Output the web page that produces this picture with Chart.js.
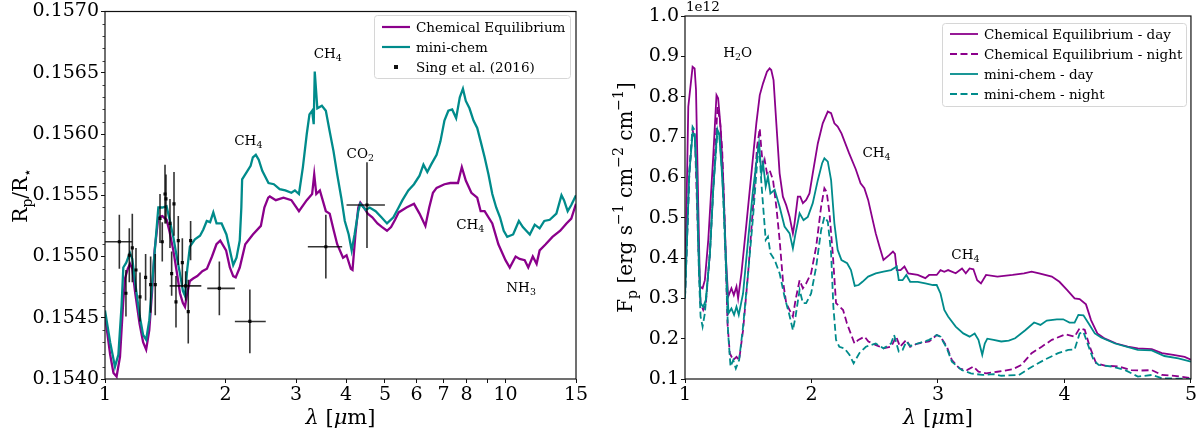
<!DOCTYPE html>
<html>
<head>
<meta charset="utf-8">
<script src="https://cdn.jsdelivr.net/npm/chart.js@4.4.1/dist/chart.umd.min.js"></script>
<style>
  body { margin: 0; background: #fff; }
  #wrap { position: relative; width: 1200px; height: 435px; }
  canvas { position: absolute; top: 0; }
</style>
</head>
<body>
<div id="wrap">
  <canvas id="transit" width="600" height="435" style="left:0"></canvas>
  <canvas id="emission" width="600" height="435" style="left:600px"></canvas>
</div>
<script>
// ---- transmission spectrum (left) ----
const ceLam = [1.00,1.03,1.05,1.069,1.09,1.11,1.122,1.14,1.155,1.17,1.19,1.22,1.245,1.267,1.29,1.31,1.33,1.359,1.39,1.425,1.45,1.481,1.51,1.539,1.565,1.584,1.60,1.629,1.66,1.70,1.75,1.797,1.85,1.898,1.94,2.006,2.05,2.09,2.12,2.17,2.24,2.34,2.45,2.50,2.556,2.58,2.67,2.79,2.92,3.05,3.19,3.29,3.33,3.37,3.44,3.56,3.64,3.72,3.80,3.93,4.01,4.11,4.15,4.22,4.29,4.34,4.43,4.53,4.65,4.79,4.92,5.06,5.18,5.30,5.41,5.66,5.91,6.10,6.31,6.45,6.59,6.73,7.04,7.28,7.61,7.78,7.96,8.22,8.50,8.67,8.87,9.27,9.60,10.0,10.25,10.6,10.85,11.17,11.4,11.7,11.96,12.17,12.6,13.1,13.7,14.2,14.6,15.0];
const ceRad = [0.15452,0.15420,0.15405,0.15402,0.15418,0.15462,0.15482,0.15490,0.15494,0.15490,0.15470,0.15445,0.15430,0.15424,0.15440,0.15470,0.15505,0.15532,0.15533,0.15530,0.15520,0.15505,0.15488,0.15470,0.15462,0.15459,0.15468,0.15480,0.15482,0.15484,0.15488,0.15490,0.15500,0.15510,0.15513,0.15505,0.15491,0.15484,0.15483,0.15491,0.15510,0.15518,0.15525,0.15540,0.15548,0.15549,0.15546,0.15548,0.15546,0.15537,0.15546,0.15551,0.15567,0.15551,0.15554,0.15537,0.15535,0.15522,0.15510,0.15499,0.15501,0.15490,0.15489,0.15518,0.15540,0.15544,0.15540,0.15535,0.15532,0.15527,0.15524,0.15521,0.15524,0.15530,0.15536,0.15540,0.15543,0.15535,0.15525,0.15540,0.15552,0.15556,0.15559,0.15560,0.15560,0.15573,0.15562,0.15552,0.15548,0.15537,0.15537,0.15527,0.15510,0.15497,0.15491,0.15500,0.15498,0.15497,0.15491,0.15500,0.15494,0.15505,0.15510,0.15516,0.15521,0.15527,0.15531,0.15543];

const mcLam = [1.00,1.03,1.059,1.08,1.10,1.111,1.13,1.154,1.17,1.19,1.22,1.245,1.267,1.29,1.32,1.359,1.39,1.425,1.45,1.481,1.51,1.539,1.565,1.584,1.605,1.629,1.677,1.727,1.76,1.795,1.83,1.864,1.899,1.955,2.01,2.07,2.09,2.13,2.17,2.19,2.20,2.24,2.31,2.34,2.38,2.42,2.47,2.56,2.64,2.73,2.82,2.92,2.98,3.05,3.12,3.19,3.24,3.29,3.32,3.34,3.39,3.48,3.56,3.64,3.72,3.80,3.89,3.97,4.06,4.13,4.20,4.29,4.34,4.48,4.58,4.74,4.90,5.06,5.25,5.41,5.53,5.72,5.91,6.10,6.24,6.38,6.52,6.73,6.88,7.04,7.20,7.36,7.53,7.69,7.83,7.96,8.13,8.32,8.50,8.67,8.87,9.07,9.27,9.48,9.69,9.90,10.1,10.45,10.8,11.05,11.5,11.83,12.17,12.5,12.9,13.4,13.8,14.0,14.3,14.6,15.0];
const mcRad = [0.15456,0.15430,0.15410,0.15420,0.15460,0.15491,0.15495,0.15503,0.15498,0.15478,0.15452,0.15436,0.15432,0.15448,0.15490,0.15540,0.15540,0.15541,0.15530,0.15516,0.15500,0.15486,0.15472,0.15468,0.15490,0.15508,0.15514,0.15517,0.15522,0.15529,0.15528,0.15536,0.15527,0.15527,0.15518,0.15499,0.15493,0.15499,0.15513,0.15540,0.15563,0.15567,0.15574,0.15581,0.15583,0.15579,0.15570,0.15560,0.15559,0.15555,0.15554,0.15552,0.15554,0.15551,0.15573,0.15600,0.15616,0.15619,0.15608,0.15651,0.15621,0.15623,0.15619,0.15602,0.15586,0.15567,0.15548,0.15529,0.15518,0.15505,0.15518,0.15537,0.15543,0.15538,0.15540,0.15537,0.15532,0.15527,0.15532,0.15540,0.15546,0.15554,0.15559,0.15566,0.15575,0.15569,0.15575,0.15583,0.15594,0.15611,0.15619,0.15620,0.15613,0.15630,0.15637,0.15627,0.15621,0.15611,0.15605,0.15594,0.15581,0.15567,0.15551,0.15540,0.15532,0.15521,0.15516,0.15518,0.15529,0.15524,0.15518,0.15526,0.15523,0.15529,0.15530,0.15535,0.15550,0.15546,0.15537,0.15542,0.15550];

// Sing et al. (2016): wavelength, Rp/R*, x-range low/high (0 = none), y error
const obsLam  = [1.086,1.128,1.15,1.17,1.195,1.223,1.263,1.30,1.335,1.372,1.39,1.412,1.42,1.453,1.467,1.487,1.504,1.524,1.56,1.614,1.636,1.59,1.93,2.30,3.56,4.51];
const obsRad  = [0.15512,0.15470,0.15501,0.15507,0.15489,0.15467,0.15483,0.15477,0.15477,0.15531,0.15512,0.15551,0.15547,0.15527,0.15486,0.15543,0.15463,0.15513,0.15495,0.15455,0.15513,0.15476,0.15474,0.15447,0.15508,0.15542];
const obsLo   = [1.00,0,0,0,0,0,0,0,0,0,0,0,0,0,0,0,0,0,0,0,0,1.45,1.80,2.11,3.21,4.01];
const obsHi   = [1.17,0,0,0,0,0,0,0,0,0,0,0,0,0,0,0,0,0,0,0,0,1.74,2.11,2.52,3.91,5.00];
const obsErr  = [0.00022,0.00019,0.00022,0.00028,0.00018,0.00020,0.00019,0.00023,0.00025,0.00020,0.00016,0.00024,0.00020,0.00020,0.00018,0.00026,0.00021,0.00020,0.00020,0.00026,0.00016,0.00012,0.00022,0.00026,0.00026,0.00035];

const logTicks  = [1,2,3,4,5,6,7,8,9,10,15];
const logLabels = [1,2,3,4,5,6,7,8,10,15];

const transitNotes = ['CH_4','CH_4','CO_2','CH_4','NH_3'];
const transitNoteX = [2.28,3.60,4.34,8.17,10.94];
const transitNoteY = [0.15594,0.15665,0.15583,0.15525,0.15474];

// ---- emission spectrum (right), flux in units of 1e12 ----
const ceDayLam = [1.00,1.026,1.06,1.076,1.087,1.105,1.118,1.139,1.157,1.184,1.223,1.249,1.262,1.281,1.302,1.323,1.341,1.367,1.386,1.407,1.42,1.446,1.486,1.525,1.564,1.591,1.617,1.648,1.669,1.682,1.70,1.722,1.748,1.774,1.80,1.827,1.853,1.866,1.892,1.911,1.932,1.958,1.984,2.01,2.05,2.089,2.129,2.155,2.181,2.207,2.237,2.297,2.35,2.388,2.418,2.448,2.484,2.508,2.538,2.569,2.614,2.644,2.66,2.674,2.704,2.735,2.765,2.84,2.90,2.93,2.99,3.02,3.05,3.08,3.14,3.19,3.22,3.25,3.28,3.31,3.34,3.38,3.47,3.59,3.68,3.74,3.80,3.90,3.96,4.02,4.08,4.12,4.17,4.21,4.26,4.32,4.41,4.50,4.58,4.69,4.77,4.86,4.95,5.00];
const ceDay    = [0.32,0.775,0.874,0.870,0.817,0.527,0.329,0.325,0.345,0.445,0.651,0.804,0.796,0.726,0.593,0.403,0.304,0.325,0.308,0.329,0.300,0.362,0.486,0.610,0.734,0.804,0.833,0.862,0.870,0.866,0.841,0.734,0.610,0.552,0.531,0.502,0.461,0.486,0.552,0.552,0.536,0.544,0.560,0.610,0.684,0.734,0.763,0.759,0.734,0.726,0.709,0.660,0.620,0.585,0.573,0.544,0.494,0.461,0.428,0.395,0.407,0.416,0.410,0.370,0.370,0.379,0.362,0.358,0.350,0.358,0.358,0.370,0.366,0.370,0.362,0.374,0.362,0.374,0.372,0.345,0.337,0.358,0.354,0.358,0.362,0.366,0.362,0.354,0.341,0.321,0.300,0.298,0.285,0.246,0.213,0.200,0.188,0.180,0.176,0.174,0.164,0.160,0.155,0.148];

const ceNightLam = [1.00,1.034,1.06,1.079,1.105,1.123,1.144,1.165,1.197,1.223,1.257,1.276,1.294,1.315,1.336,1.354,1.381,1.407,1.428,1.459,1.499,1.538,1.570,1.591,1.604,1.617,1.630,1.648,1.669,1.696,1.722,1.748,1.774,1.80,1.827,1.853,1.874,1.906,1.932,1.958,1.997,2.037,2.076,2.102,2.12,2.142,2.168,2.194,2.22,2.25,2.28,2.31,2.34,2.37,2.42,2.45,2.51,2.57,2.63,2.67,2.70,2.75,2.78,2.84,2.93,2.99,3.02,3.07,3.11,3.17,3.23,3.28,3.32,3.38,3.47,3.59,3.66,3.74,3.82,3.90,4.01,4.08,4.12,4.16,4.20,4.25,4.32,4.43,4.53,4.60,4.69,4.77,4.87,5.00];
const ceNight    = [0.30,0.61,0.717,0.693,0.428,0.288,0.271,0.288,0.412,0.569,0.775,0.742,0.668,0.478,0.238,0.164,0.147,0.155,0.147,0.221,0.362,0.527,0.676,0.721,0.668,0.626,0.643,0.610,0.618,0.593,0.527,0.445,0.345,0.288,0.271,0.255,0.296,0.345,0.325,0.337,0.362,0.428,0.527,0.573,0.564,0.511,0.412,0.288,0.280,0.271,0.238,0.213,0.188,0.197,0.205,0.193,0.184,0.176,0.180,0.205,0.180,0.197,0.180,0.188,0.193,0.209,0.205,0.180,0.147,0.126,0.122,0.131,0.118,0.114,0.118,0.124,0.135,0.164,0.180,0.197,0.211,0.205,0.226,0.222,0.180,0.139,0.133,0.131,0.122,0.121,0.122,0.110,0.108,0.102];

const mcDayLam = [1.00,1.034,1.06,1.076,1.092,1.105,1.123,1.144,1.165,1.197,1.223,1.255,1.27,1.289,1.307,1.328,1.344,1.367,1.388,1.407,1.425,1.459,1.499,1.538,1.57,1.585,1.604,1.617,1.638,1.656,1.675,1.709,1.748,1.787,1.827,1.853,1.874,1.906,1.937,1.971,2.01,2.05,2.084,2.102,2.129,2.155,2.181,2.207,2.237,2.282,2.312,2.342,2.373,2.403,2.448,2.508,2.569,2.629,2.674,2.69,2.72,2.75,2.78,2.84,2.90,2.96,2.99,3.02,3.05,3.08,3.14,3.20,3.25,3.29,3.32,3.35,3.37,3.39,3.44,3.50,3.56,3.61,3.69,3.76,3.81,3.86,3.94,3.99,4.04,4.08,4.11,4.15,4.19,4.24,4.29,4.40,4.58,4.69,4.79,4.90,5.00];
const mcDay    = [0.30,0.61,0.709,0.705,0.61,0.445,0.288,0.279,0.296,0.412,0.569,0.717,0.709,0.626,0.527,0.362,0.263,0.275,0.259,0.279,0.259,0.312,0.445,0.569,0.651,0.684,0.61,0.635,0.577,0.602,0.56,0.569,0.527,0.478,0.461,0.424,0.461,0.511,0.494,0.502,0.536,0.593,0.635,0.647,0.639,0.593,0.486,0.420,0.395,0.387,0.370,0.331,0.333,0.341,0.354,0.362,0.366,0.370,0.379,0.345,0.345,0.358,0.341,0.341,0.337,0.333,0.333,0.312,0.271,0.255,0.230,0.213,0.205,0.213,0.197,0.160,0.188,0.200,0.197,0.193,0.195,0.201,0.221,0.240,0.234,0.245,0.248,0.248,0.240,0.240,0.259,0.258,0.238,0.213,0.203,0.188,0.172,0.171,0.157,0.151,0.143];

const mcNightLam = [1.00,1.034,1.06,1.076,1.092,1.11,1.123,1.139,1.157,1.17,1.197,1.223,1.257,1.276,1.297,1.32,1.341,1.36,1.381,1.402,1.428,1.459,1.499,1.538,1.57,1.585,1.604,1.622,1.638,1.656,1.675,1.709,1.748,1.787,1.822,1.853,1.874,1.906,1.932,1.958,1.997,2.037,2.076,2.102,2.129,2.155,2.173,2.194,2.22,2.26,2.30,2.333,2.378,2.43,2.508,2.569,2.629,2.653,2.69,2.72,2.75,2.78,2.84,2.93,2.99,3.02,3.07,3.11,3.19,3.26,3.35,3.44,3.50,3.64,3.74,3.85,3.95,4.03,4.08,4.12,4.15,4.18,4.23,4.27,4.37,4.48,4.58,4.69,4.77,5.00];
const mcNight    = [0.30,0.61,0.725,0.717,0.61,0.362,0.255,0.230,0.263,0.312,0.412,0.569,0.717,0.693,0.593,0.403,0.213,0.131,0.147,0.126,0.147,0.230,0.362,0.502,0.635,0.684,0.585,0.511,0.445,0.453,0.412,0.395,0.362,0.304,0.263,0.221,0.255,0.321,0.288,0.288,0.312,0.378,0.469,0.502,0.490,0.412,0.279,0.197,0.180,0.176,0.160,0.139,0.164,0.180,0.188,0.176,0.188,0.209,0.168,0.172,0.193,0.182,0.188,0.197,0.209,0.205,0.176,0.143,0.122,0.114,0.110,0.112,0.108,0.110,0.130,0.149,0.164,0.172,0.173,0.213,0.217,0.190,0.147,0.135,0.131,0.122,0.106,0.110,0.102,0.100];

const emissionNotes = ['H_2O','CH_4','CH_4'];
const emissionNoteX = [1.416,2.514,3.217];
const emissionNoteY = [0.907,0.66,0.407];

const FONT = '"DejaVu Serif", "Liberation Serif", serif';
const PURPLE = '#8b008b';
const TEAL = '#008b8b';

const pts = (xs, ys) => xs.map((x, i) => ({ x: x, y: ys[i] }));

// tiny markup: _x / _{..} subscript, ^{..} superscript, *..* italic
function parseRich(s) {
  const out = [];
  let i = 0, it = false, buf = '';
  const flush = () => { if (buf) { out.push({ t: buf, m: '', it: it }); buf = ''; } };
  while (i < s.length) {
    const c = s[i];
    if (c === '_' || c === '^') {
      flush();
      let t;
      if (s[i + 1] === '{') { const j = s.indexOf('}', i); t = s.slice(i + 2, j); i = j + 1; }
      else { t = s[i + 1]; i += 2; }
      out.push({ t: t, m: c === '_' ? 'sub' : 'sup', it: it });
    } else if (c === '*') { flush(); it = !it; i++; }
    else { buf += c; i++; }
  }
  flush();
  return out;
}

function drawRich(ctx, str, x, y, size, align, angle) {
  const parts = parseRich(str);
  const font = p => (p.it ? 'italic ' : '') + (p.m ? size * 0.7 : size) + 'px ' + FONT;
  let total = 0;
  parts.forEach(p => { ctx.font = font(p); p.w = ctx.measureText(p.t).width; total += p.w; });
  ctx.save();
  ctx.translate(x, y);
  if (angle) ctx.rotate(angle);
  ctx.textBaseline = 'middle';
  ctx.textAlign = 'left';
  ctx.fillStyle = '#000';
  let cx = align === 'left' ? 0 : align === 'right' ? -total : -total / 2;
  parts.forEach(p => {
    ctx.font = font(p);
    const dy = p.m === 'sub' ? size * 0.3 : p.m === 'sup' ? -size * 0.4 : 0;
    ctx.fillText(p.t, cx, dy);
    cx += p.w;
  });
  ctx.restore();
}

function drawLegend(ctx, box, rows) {
  ctx.save();
  ctx.beginPath();
  ctx.roundRect(box.x + 0.5, box.y + 0.5, box.w, box.h, 3);
  ctx.fillStyle = 'rgba(255,255,255,0.85)';
  ctx.fill();
  ctx.strokeStyle = '#d6d6d6';
  ctx.lineWidth = 1;
  ctx.stroke();
  rows.forEach((r, i) => {
    const yy = box.y + box.first + i * 20;
    const hx = box.x + 8;
    if (r.marker) {
      ctx.fillStyle = '#111';
      ctx.fillRect(hx + 12, yy - 2, 4, 4);
    } else {
      ctx.strokeStyle = r.color;
      ctx.lineWidth = r.lw;
      ctx.setLineDash(r.dash || []);
      ctx.beginPath();
      ctx.moveTo(hx, yy);
      ctx.lineTo(hx + 28, yy);
      ctx.stroke();
      ctx.setLineDash([]);
    }
    ctx.fillStyle = '#000';
    ctx.font = '13.5px ' + FONT;
    ctx.textBaseline = 'middle';
    ctx.textAlign = 'left';
    ctx.fillText(r.label, hx + 34, yy + 1);
  });
  ctx.restore();
}

function drawFrame(ctx, a) {
  ctx.save();
  ctx.strokeStyle = '#111';
  ctx.lineWidth = 1.2;
  ctx.strokeRect(a.left, a.top, a.right - a.left, a.bottom - a.top);
  ctx.restore();
}

const tickFont = { family: FONT, size: 19, lineHeight: 1 };

// ---------- left chart ----------
const transitPlugin = {
  id: 'transitDecor',
  afterDatasetsDraw(chart) {
    const ctx = chart.ctx, xs = chart.scales.x, ys = chart.scales.y, a = chart.chartArea;
    ctx.save();
    ctx.beginPath();
    ctx.rect(a.left, a.top, a.right - a.left, a.bottom - a.top);
    ctx.clip();
    ctx.strokeStyle = 'rgba(0,0,0,0.8)';
    ctx.lineWidth = 1.6;
    obsLam.forEach((l, i) => {
      const px = xs.getPixelForValue(l), py = ys.getPixelForValue(obsRad[i]);
      ctx.beginPath();
      ctx.moveTo(px, ys.getPixelForValue(obsRad[i] - obsErr[i]));
      ctx.lineTo(px, ys.getPixelForValue(obsRad[i] + obsErr[i]));
      if (obsLo[i]) {
        ctx.moveTo(xs.getPixelForValue(obsLo[i]), py);
        ctx.lineTo(xs.getPixelForValue(obsHi[i]), py);
      }
      ctx.stroke();
    });
    ctx.restore();
  },
  afterDraw(chart) {
    const ctx = chart.ctx, xs = chart.scales.x, ys = chart.scales.y, a = chart.chartArea;
    drawFrame(ctx, a);
    // minor ticks on the y axis
    ctx.save();
    ctx.strokeStyle = '#111';
    ctx.lineWidth = 0.8;
    for (let k = 0; k <= 30; k++) {
      if (k % 5 === 0) continue;
      const py = Math.round(ys.getPixelForValue(0.154 + k * 0.0001)) + 0.5;
      ctx.beginPath();
      ctx.moveTo(a.left, py);
      ctx.lineTo(a.left - 2.5, py);
      ctx.stroke();
    }
    ctx.restore();
    drawRich(ctx, 'R_p/R_{⋆}', 22, (a.top + a.bottom) / 2, 20, 'center', -Math.PI / 2);
    drawRich(ctx, '*λ* [*μ*m]', (a.left + a.right) / 2, 419, 21, 'center');
    transitNotes.forEach((t, i) => {
      drawRich(ctx, t, xs.getPixelForValue(transitNoteX[i]), ys.getPixelForValue(transitNoteY[i]), 13.5, 'center');
    });
    drawLegend(ctx, { x: 374, y: 15, w: 196, h: 63, first: 12 }, [
      { label: 'Chemical Equilibrium', color: PURPLE, lw: 2.2 },
      { label: 'mini-chem', color: TEAL, lw: 2.2 },
      { label: 'Sing et al. (2016)', marker: true }
    ]);
  }
};

new Chart(document.getElementById('transit'), {
  type: 'line',
  data: {
    datasets: [
      { label: 'Sing et al. (2016)', data: pts(obsLam, obsRad), showLine: false, pointStyle: 'rect',
        pointRadius: 2.2, pointBackgroundColor: '#111', pointBorderWidth: 0, order: 0 },
      { label: 'mini-chem', data: pts(mcLam, mcRad), borderColor: TEAL, borderWidth: 2.3, pointRadius: 0, order: 1 },
      { label: 'Chemical Equilibrium', data: pts(ceLam, ceRad), borderColor: PURPLE, borderWidth: 2.3, pointRadius: 0, order: 2 }
    ]
  },
  options: {
    responsive: false,
    animation: false,
    layout: { padding: { left: 0, right: 24, top: 10, bottom: 0 } },
    plugins: { legend: { display: false }, tooltip: { enabled: false } },
    scales: {
      x: {
        type: 'logarithmic', min: 1, max: 15,
        afterBuildTicks: s => { s.ticks = logTicks.map(v => ({ value: v })); },
        afterFit: s => { s.height = 56; },
        grid: { drawOnChartArea: false, tickLength: 4, color: '#111' },
        border: { display: false },
        ticks: { autoSkip: false, maxRotation: 0, padding: 3, color: '#000', font: tickFont,
          callback: v => logLabels.includes(v) ? String(v) : '' }
      },
      y: {
        min: 0.154, max: 0.157,
        afterFit: s => { s.width = 105; },
        grid: { drawOnChartArea: false, tickLength: 4, color: '#111' },
        border: { display: false },
        ticks: { stepSize: 0.0005, padding: 2, color: '#000', font: tickFont, callback: v => Number(v).toFixed(4) }
      }
    }
  },
  plugins: [transitPlugin]
});

// ---------- right chart ----------
const emissionPlugin = {
  id: 'emissionDecor',
  afterDraw(chart) {
    const ctx = chart.ctx, xs = chart.scales.x, ys = chart.scales.y, a = chart.chartArea;
    drawFrame(ctx, a);
    drawRich(ctx, 'F_p [erg s^{−1} cm^{−2} cm^{−1}]', 27, (a.top + a.bottom) / 2, 20, 'center', -Math.PI / 2);
    drawRich(ctx, '*λ* [*μ*m]', (a.left + a.right) / 2, 419, 21, 'center');
    drawRich(ctx, '1e12', a.left + 1, 7, 13.5, 'left');
    emissionNotes.forEach((t, i) => {
      drawRich(ctx, t, xs.getPixelForValue(emissionNoteX[i]), ys.getPixelForValue(emissionNoteY[i]), 13.5, 'center');
    });
    drawLegend(ctx, { x: 342, y: 23, w: 244, h: 83, first: 11 }, [
      { label: 'Chemical Equilibrium - day', color: PURPLE, lw: 1.8 },
      { label: 'Chemical Equilibrium - night', color: PURPLE, lw: 1.8, dash: [7, 3.5] },
      { label: 'mini-chem - day', color: TEAL, lw: 1.8 },
      { label: 'mini-chem - night', color: TEAL, lw: 1.8, dash: [7, 3.5] }
    ]);
  }
};

new Chart(document.getElementById('emission'), {
  type: 'line',
  data: {
    datasets: [
      { label: 'Chemical Equilibrium - day', data: pts(ceDayLam, ceDay), borderColor: PURPLE, borderWidth: 1.8, pointRadius: 0, order: 4 },
      { label: 'Chemical Equilibrium - night', data: pts(ceNightLam, ceNight), borderColor: PURPLE, borderWidth: 1.8, borderDash: [7, 3.5], pointRadius: 0, order: 3 },
      { label: 'mini-chem - day', data: pts(mcDayLam, mcDay), borderColor: TEAL, borderWidth: 1.8, pointRadius: 0, order: 2 },
      { label: 'mini-chem - night', data: pts(mcNightLam, mcNight), borderColor: TEAL, borderWidth: 1.8, borderDash: [7, 3.5], pointRadius: 0, order: 1 }
    ]
  },
  options: {
    responsive: false,
    animation: false,
    layout: { padding: { left: 0, right: 7, top: 16, bottom: 0 } },
    plugins: { legend: { display: false }, tooltip: { enabled: false } },
    scales: {
      x: {
        type: 'linear', min: 1, max: 5,
        afterFit: s => { s.height = 56; },
        grid: { drawOnChartArea: false, tickLength: 4, color: '#111' },
        border: { display: false },
        ticks: { stepSize: 1, maxRotation: 0, padding: 3, color: '#000', font: tickFont }
      },
      y: {
        min: 0.1, max: 1.0,
        afterFit: s => { s.width = 85; },
        grid: { drawOnChartArea: false, tickLength: 4, color: '#111' },
        border: { display: false },
        ticks: { stepSize: 0.1, padding: 2, color: '#000', font: tickFont, callback: v => Number(v).toFixed(1) }
      }
    }
  },
  plugins: [emissionPlugin]
});
</script>
</body>
</html>
